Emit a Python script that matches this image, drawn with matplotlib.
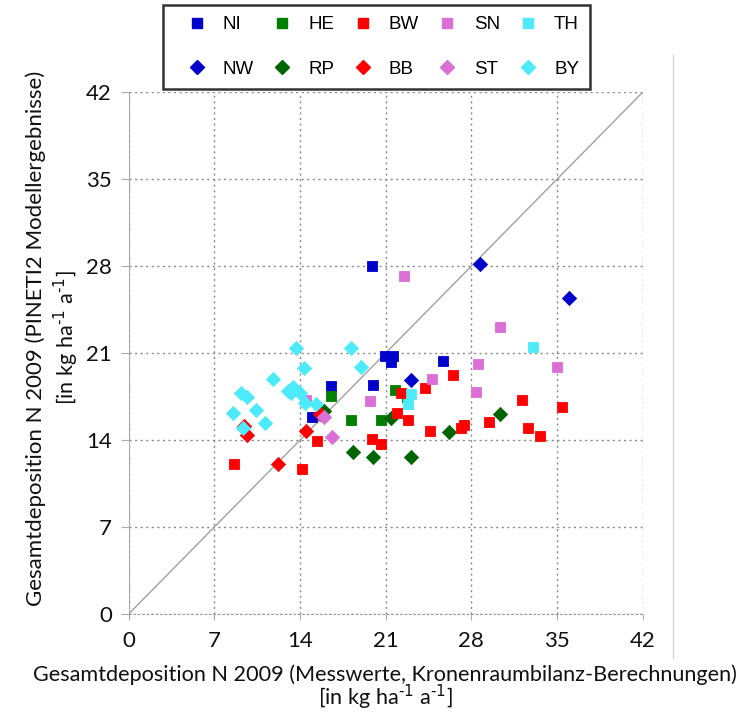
import matplotlib.pyplot as plt
from matplotlib.lines import Line2D
import numpy as np

# values (kg N / ha / a)
ni_x = [19.9, 16.5, 20.0, 15.0, 20.95, 21.6, 21.4, 25.7]
ni_y = [28.0, 18.35, 18.4, 15.85, 20.8, 20.8, 20.3, 20.4]
he_x = [16.5, 18.2, 20.6, 21.8, 22.75]
he_y = [17.55, 15.6, 15.6, 18.0, 17.45]
bw_x = [15.4, 19.9, 20.6, 8.6, 14.15, 26.5, 24.2, 22.25, 32.1, 35.4, 21.9, 22.8,
        29.4, 27.4, 27.15, 32.6, 24.6, 33.6]
bw_y = [13.9, 14.1, 13.7, 12.05, 11.65, 19.25, 18.2, 17.8, 17.25, 16.65, 16.15, 15.6,
        15.45, 15.2, 15.0, 14.95, 14.75, 14.35]
sn_x = [22.5, 30.3, 28.55, 35.0, 24.8, 28.4, 19.75, 14.5]
sn_y = [27.2, 23.1, 20.1, 19.9, 18.95, 17.9, 17.15, 17.2]
th_x = [33.05, 23.1, 22.8]
th_y = [21.5, 17.7, 16.9]
nw_x = [28.7, 36.0, 23.1]
nw_y = [28.15, 25.4, 18.8]
rp_x = [15.95, 18.35, 20.0, 30.3, 21.4, 26.15, 23.1]
rp_y = [16.35, 13.0, 12.65, 16.1, 15.75, 14.65, 12.65]
bb_x = [15.65, 9.4, 9.65, 14.45, 12.2]
bb_y = [16.1, 15.15, 14.4, 14.75, 12.1]
st_x = [15.95, 16.65]
st_y = [15.85, 14.25]
by_x = [13.7, 18.2, 14.3, 18.95, 11.8, 9.2, 9.65, 13.05, 13.45, 13.25, 14.0, 14.4,
        15.3, 8.55, 10.4, 11.15, 9.35]
by_y = [21.4, 21.4, 19.8, 19.85, 18.95, 17.75, 17.5, 17.95, 18.3, 17.75, 17.8, 16.95,
        16.9, 16.2, 16.4, 15.35, 14.95]

ticks = [0, 7, 14, 21, 28, 35, 42]

blue = '#0000CC'
green = '#008000'
red = '#FF0000'
orchid = '#DA70D6'
cyan = '#4DEBFA'
dkgreen = '#006400'

tick_font = 'Lato'
lab_font = 'Lato'

fig = plt.figure(figsize=(7.43, 7.13), dpi=100)
ax = fig.add_axes([0.1731, 0.1388, 0.692, 0.732])

# diagonal 1:1 line
ax.plot(ticks, ticks, color='#A0A0A0', lw=1.0, zorder=2)

sq = 62
dm = 52
series = [
    ('NI', ni_x, ni_y, 's', blue, sq),
    ('NW', nw_x, nw_y, 'D', blue, dm),
    ('HE', he_x, he_y, 's', green, sq),
    ('RP', rp_x, rp_y, 'D', dkgreen, dm),
    ('BW', bw_x, bw_y, 's', red, sq),
    ('BB', bb_x, bb_y, 'D', red, dm),
    ('SN', sn_x, sn_y, 's', orchid, sq),
    ('ST', st_x, st_y, 'D', orchid, dm),
    ('TH', th_x, th_y, 's', cyan, sq),
    ('BY', by_x, by_y, 'D', cyan, dm),
]
handles = []
for name, xs, ys, mk, col, s in series:
    ax.scatter(xs, ys, marker=mk, s=s, color=col, edgecolors=col, linewidths=0.6,
               zorder=3)
    handles.append(Line2D([], [], marker=mk, ls='', color=col,
                          markersize=7 if mk == 's' else 7.5, label=name))

ax.set_xlim(0, 42)
ax.set_ylim(0, 42)
ax.set_xticks(ticks)
ax.set_yticks(ticks)
ax.grid(True, ls=(0, (1.5, 2.5)), color='#888888', lw=1.0)
ax.set_axisbelow(True)
for side in ['top', 'right']:
    ax.spines[side].set_visible(False)
ax.spines['left'].set_color('#AAAAAA')
ax.spines['bottom'].set_color('#999999')
ax.spines['bottom'].set_linestyle((0, (1.5, 2.5)))
ax.tick_params(axis='y', length=6, color='#AAAAAA', pad=6)
ax.tick_params(axis='x', length=4, color='#AAAAAA', pad=8)
for lab in ax.get_xticklabels() + ax.get_yticklabels():
    lab.set_fontfamily(tick_font)
    lab.set_fontsize(16)
    lab.set_color('#111111')

leg = fig.legend(handles=handles, ncol=5, loc='upper left',
                 bbox_to_anchor=(163 / 743, 1 - 5 / 713),
                 prop={'family': 'Liberation Sans', 'size': 13.5},
                 frameon=True, fancybox=False, borderaxespad=0,
                 columnspacing=0.3, handletextpad=0.2, labelspacing=1.45,
                 borderpad=0.6, handlelength=2.4)
leg.get_frame().set_edgecolor('black')
leg.get_frame().set_linewidth(1.8)

sup = r'$^{\text{-1}}$'
unit = '[in kg ha' + sup + ' a' + sup + ']'
fig.text(385 / 743, 1 - 675 / 713,
         'Gesamtdeposition N 2009 (Messwerte, Kronenraumbilanz-Berechnungen)',
         ha='center', va='center', fontsize=15.6, family=lab_font, color='#111111')
fig.text(385 / 743, 1 - 697 / 713, unit,
         ha='center', va='center', fontsize=15.6, family=lab_font, color='#111111')
fig.text(36 / 743, 1 - 338 / 713,
         'Gesamtdeposition N 2009 (PINETI2 Modellergebnisse)',
         ha='center', va='center', rotation=90, fontsize=16, family=lab_font,
         color='#111111')
fig.text(66 / 743, 1 - 338 / 713, unit,
         ha='center', va='center', rotation=90, fontsize=15.6, family=lab_font,
         color='#111111')

# thin frame line on the right side of the picture
fig.add_artist(Line2D([673 / 743, 673 / 743], [1 - 55 / 713, 1 - 658 / 713],
                      transform=fig.transFigure, color='#D8D8D8', lw=1))

fig.savefig('out.png', dpi=100)
